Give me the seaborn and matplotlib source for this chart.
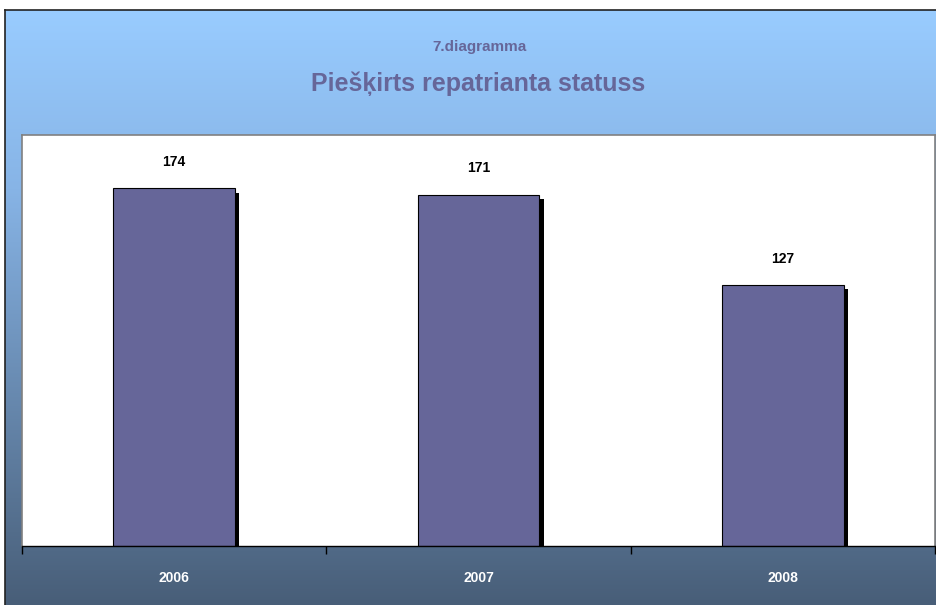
import numpy as np
import pandas as pd
import seaborn as sns
import matplotlib.pyplot as plt
import matplotlib.patheffects as pe

years = ["2006", "2007", "2008"]
counts = [174, 171, 127]
subtitle = "7.diagramma"
title = "Piešķirts repatrianta statuss"

sns.set_theme(style="white")
plt.rcParams["font.family"] = ["Liberation Sans Narrow", "Liberation Sans", "DejaVu Sans"]

W, H = 937, 605
fig = plt.figure(figsize=(W / 100, H / 100), dpi=100)
fig.patch.set_facecolor("white")

# gradient background of the chart frame
bg = fig.add_axes([5 / W, 0, (W - 5) / W, (H - 10) / H])
top = np.array([153, 204, 255]) / 255
mid = np.array([135, 180, 230]) / 255
bot = np.array([72, 94, 120]) / 255
t = np.linspace(0, 1, 300)[:, None]
grad = np.where(t < 0.3, top + (mid - top) * (t / 0.3), mid + (bot - mid) * ((t - 0.3) / 0.7))
bg.imshow(grad[:, None, :].repeat(2, axis=1), aspect="auto", extent=[0, 1, 0, 1])
bg.set_xticks([])
bg.set_yticks([])
for s in ["right", "bottom"]:
    bg.spines[s].set_visible(False)
for s in ["top", "left"]:
    bg.spines[s].set_color("#222222")
    bg.spines[s].set_linewidth(1.2)

fig.text(480 / W, 1 - 47 / H, subtitle, ha="center", va="center",
         fontsize=11, fontweight="bold", color="#666699")
fig.text(478 / W, 1 - 84 / H, title, ha="center", va="center",
         fontsize=18, fontweight="bold", color="#666699")

ax = fig.add_axes([22 / W, (H - 546) / H, (935 - 22) / W, (546 - 135) / H])
ax.set_facecolor("white")
df = pd.DataFrame({"year": years, "count": counts})
sns.barplot(data=df, x="year", y="count", color="#666699", width=0.4,
            edgecolor="black", linewidth=0.8, saturation=1, ax=ax)
for bar in ax.patches:
    bar.set_path_effects([pe.SimplePatchShadow(offset=(3, -3), shadow_rgbFace="black", alpha=1),
                          pe.Normal()])
ax.bar_label(ax.containers[0], padding=14, fontsize=10, fontweight="bold", color="black")

ax.set_ylim(0, 200)
ax.set_xlim(-0.5, 2.5)
ax.set_yticks([])
ax.set_xlabel("")
ax.set_ylabel("")
ax.set_xticks([-0.5, 0.5, 1.5, 2.5], minor=True)
ax.tick_params(axis="x", which="minor", length=6, width=1, color="black", direction="out", bottom=True)
ax.tick_params(axis="x", which="major", length=0, pad=18, labelsize=10, labelcolor="white")
for lbl in ax.get_xticklabels():
    lbl.set_fontweight("bold")
for s in ["top", "left", "right"]:
    ax.spines[s].set_color("#808080")
    ax.spines[s].set_linewidth(1.2)
ax.spines["bottom"].set_color("black")
ax.spines["bottom"].set_linewidth(1)

fig.savefig("out.png", dpi=100)
